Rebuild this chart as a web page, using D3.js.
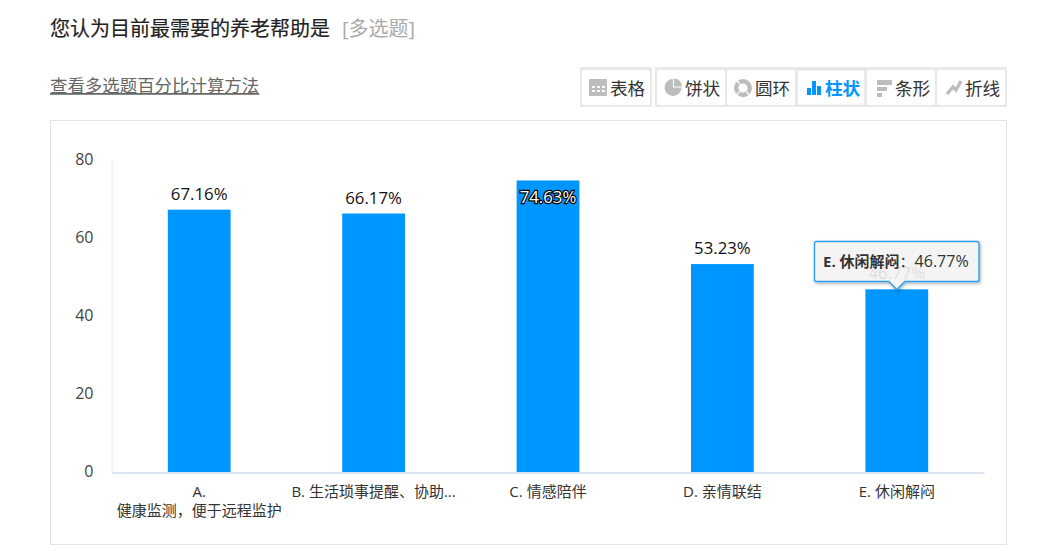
<!DOCTYPE html>
<html><head><meta charset="utf-8">
<script src="https://cdnjs.cloudflare.com/ajax/libs/d3/7.8.5/d3.min.js"></script>
<style>html,body{margin:0;padding:0;background:#fff;overflow:hidden}svg{display:block}
text{font-family:"Open Sans","Noto Sans CJK SC",sans-serif}</style></head><body><div id="c"></div>
<script>
const categories=["A.","B. 生活琐事提醒、协助...","C. 情感陪伴","D. 亲情联结","E. 休闲解闷"];
const categorySecondLine=["健康监测，便于远程监护","","","",""];
const values=[67.16,66.17,74.63,53.23,46.77];
const yTicks=[0,20,40,60,80];
const buttons=["表格","饼状","圆环","柱状","条形","折线"];
const title="您认为目前最需要的养老帮助是";
const titleTag="[多选题]";
const linkText="查看多选题百分比计算方法";
const tooltipName="E. 休闲解闷";
const blue="#0096ff";

const svg=d3.select("#c").append("svg").attr("width",1057).attr("height",553);
svg.append("text").attr("x",50).attr("y",36).attr("font-size",20).attr("fill","#222").attr("stroke","#222").attr("stroke-width",.2).text(title);
svg.append("text").attr("x",342).attr("y",36).attr("font-size",20).attr("fill","#aaa").text(titleTag);
svg.append("text").attr("x",50).attr("y",92).attr("font-size",17.45).attr("fill","#666").attr("text-decoration","underline").text(linkText);

// toolbar
const btnX=[582,657,727,797,867,937];
svg.append("rect").attr("x",580).attr("y",67).attr("width",72).attr("height",40).attr("fill","#e9e9e9");
svg.append("rect").attr("x",655).attr("y",67).attr("width",352).attr("height",40).attr("fill","#e9e9e9");
const bg=svg.selectAll("g.b").data(buttons).join("g").attr("class","b").attr("transform",(d,i)=>`translate(${btnX[i]},70)`);
bg.append("rect").attr("width",68).attr("height",35).attr("rx",2).attr("fill","#fff");
bg.append("text").attr("x",28).attr("y",24.5).attr("font-size",17.6)
  .attr("font-weight",(d,i)=>i==3?"700":"400").attr("fill",(d,i)=>i==3?blue:"#333").text(d=>d);
const ic="#bdbdbd";
const i0=svg.append("g").attr("transform","translate(589,79)");
i0.append("rect").attr("width",18).attr("height",17).attr("rx",1).attr("fill",ic);
[0,1,2].forEach(a=>[0,1].forEach(b=>i0.append("rect").attr("x",3+a*5).attr("y",7+b*4).attr("width",3).attr("height",2).attr("fill","#fff")));
svg.append("path").attr("transform","translate(673,87.5)").attr("d",d3.arc().innerRadius(0).outerRadius(8.5).startAngle(1.571).endAngle(6.283)()).attr("fill",ic);
svg.append("path").attr("transform","translate(674,86.5)").attr("d",d3.arc().innerRadius(0).outerRadius(8).startAngle(0).endAngle(1.571)()).attr("fill",ic);
const arcR=d3.arc().innerRadius(4.5).outerRadius(9);
[[5.7,7.3],[0.95,2.3],[2.5,3.8],[4,5.5]].forEach(a=>svg.append("path").attr("transform","translate(743,88)").attr("d",arcR({startAngle:a[0],endAngle:a[1]})).attr("fill",ic));
[[807,88,4,7],[812,81,4,14],[817,86,4,9]].forEach(r=>svg.append("rect").attr("x",r[0]).attr("y",r[1]).attr("width",r[2]).attr("height",r[3]).attr("fill",blue));
[[877,80,15,5],[877,87,10,4],[877,93,5,4]].forEach(r=>svg.append("rect").attr("x",r[0]).attr("y",r[1]).attr("width",r[2]).attr("height",r[3]).attr("fill",ic));
svg.append("path").attr("d","M947 94L953 87L956 90L961 81").attr("fill","none").attr("stroke",ic).attr("stroke-width",3.4);
svg.append("rect").attr("x",797.5).attr("y",70).attr("width",67).attr("height",35).attr("fill","none").attr("stroke","#dedede").attr("stroke-width",.6);

// panel
svg.append("rect").attr("x",50.5).attr("y",120.5).attr("width",956).attr("height",424).attr("fill","#fff").attr("stroke","#e3e3e3");

const x=d3.scaleBand().domain(categories).range([112,984]).paddingInner(0.64).paddingOuter(0.32);
const y=d3.scaleLinear().domain([0,80]).range([472,159.5]);

// axes
const yAxis=svg.append("g").attr("transform","translate(111.5,0)").call(d3.axisLeft(y).tickValues(yTicks).tickSize(0).tickPadding(18));
yAxis.select(".domain").attr("stroke","#e3e8f3");
yAxis.selectAll("text").attr("font-size",16).attr("fill","#444").attr("dy","0.3em");

svg.selectAll("rect.bar").data(values).join("rect").attr("class","bar")
 .attr("x",(d,i)=>x(categories[i])).attr("width",x.bandwidth())
 .attr("y",d=>y(d)).attr("height",d=>y(0)-y(d)).attr("fill",blue);

const xAxis=svg.append("g").attr("transform","translate(0,472.5)").call(d3.axisBottom(x).tickSize(0).tickPadding(0));
xAxis.select(".domain").attr("stroke","#cfdcec").attr("stroke-width",1.4);
xAxis.selectAll("text").remove();
categories.forEach((c,i)=>{
  const cx=x(c)+x.bandwidth()/2;
  svg.append("text").attr("x",cx).attr("y",497).attr("text-anchor","middle").attr("font-size",15).attr("fill","#333").text(c);
  if(categorySecondLine[i]) svg.append("text").attr("x",cx).attr("y",516).attr("text-anchor","middle").attr("font-size",15).attr("fill","#333").text(categorySecondLine[i]);
});

// value labels
values.forEach((v,i)=>{
  const cx=x(categories[i])+x.bandwidth()/2;
  const t=svg.append("text").attr("x",cx).attr("text-anchor","middle").attr("font-size",16.8).text(v.toFixed(2)+"%");
  if(i==2){t.attr("y",y(v)+23).attr("fill","#fff").attr("stroke","#000").attr("stroke-width",2.4).attr("paint-order","stroke");}
  else {t.attr("y",y(v)-10).attr("fill","#111");}
});

// tooltip (translucent, so the last value label shows faintly through it)
const tipI=4, tx=x(categories[tipI])+x.bandwidth()/2;
const defs=svg.append("defs");
const f=defs.append("filter").attr("id","sh").attr("x","-10%").attr("y","-20%").attr("width","120%").attr("height","150%");
f.append("feDropShadow").attr("dx",1).attr("dy",1.5).attr("stdDeviation",1.5).attr("flood-color","#000").attr("flood-opacity",.35);
const L=814.5,R=979,T=241.5,B=281.5;
const tp=`M${L+2} ${T}H${R-2}Q${R} ${T} ${R} ${T+2}V${B-2}Q${R} ${B} ${R-2} ${B}H${tx+8}L${tx} ${B+8}L${tx-8} ${B}H${L+2}Q${L} ${B} ${L} ${B-2}V${T+2}Q${L} ${T} ${L+2} ${T}Z`;
svg.append("path").attr("d",tp).attr("fill","#f8f8f8").attr("fill-opacity",.86).attr("stroke","#2f9ff0").attr("stroke-width",1.4).attr("filter","url(#sh)");
const tt=svg.append("text").attr("x",823).attr("y",267).attr("font-size",15).attr("fill","#333");
tt.append("tspan").attr("font-weight",700).text(tooltipName);
tt.append("tspan").text("：");
tt.append("tspan").attr("font-size",16).text(values[tipI].toFixed(2)+"%");
</script></body></html>
